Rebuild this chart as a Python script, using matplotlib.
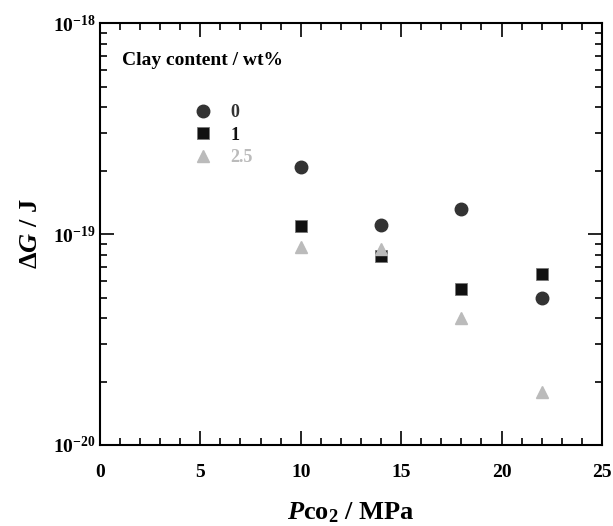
import math
import matplotlib
matplotlib.use("Agg")
import matplotlib.pyplot as plt
from matplotlib.ticker import FixedLocator, LogLocator, NullFormatter, FuncFormatter, MultipleLocator

plt.rcParams['font.family'] = ['Liberation Serif', 'DejaVu Serif']
plt.rcParams['font.weight'] = 'bold'
plt.rcParams['axes.labelweight'] = 'bold'
plt.rcParams['mathtext.fontset'] = 'custom'
plt.rcParams['mathtext.rm'] = 'Liberation Serif:bold'
plt.rcParams['mathtext.it'] = 'Liberation Serif:bold:italic'
plt.rcParams['mathtext.bf'] = 'Liberation Serif:bold'

pressure = [10, 14, 18, 22]
dg_0 = [2.08e-19, 1.10e-19, 1.32e-19, 4.95e-20]
dg_1 = [1.09e-19, 7.9e-20, 5.5e-20, 6.5e-20]
dg_25 = [8.7e-20, 8.5e-20, 3.98e-20, 1.78e-20]
series_labels = ['0', '1', '2.5']
legend_title = 'Clay content / wt%'

fig = plt.figure(figsize=(6.13, 5.26), dpi=100)
ax = fig.add_axes([0.163, 0.154, 0.819, 0.802])

h0, = ax.plot(pressure, dg_0, 'o', color='#333333', ms=9, mec='#333333', label=series_labels[0])
h1, = ax.plot(pressure, dg_1, 's', color='#111111', ms=9, mec='#777777', mew=0.6, label=series_labels[1])
h2, = ax.plot(pressure, dg_25, '^', color='#bbbbbb', ms=8, label=series_labels[2])

ax.set_yscale('log')
ax.set_xlim(0, 25)
ax.set_ylim(1e-20, 1e-18)

ax.xaxis.set_major_locator(MultipleLocator(5))
ax.xaxis.set_minor_locator(MultipleLocator(1))
ax.yaxis.set_major_locator(FixedLocator([1e-20, 1e-19, 1e-18]))
ax.yaxis.set_minor_locator(LogLocator(base=10, subs=range(2, 10)))
ax.yaxis.set_minor_formatter(NullFormatter())


def yfmt(v, pos):
    e = int(round(math.log10(v)))
    return r'$\mathbf{10^{\mathbf{-%d}}}$' % (-e)


ax.yaxis.set_major_formatter(FuncFormatter(yfmt))

ax.tick_params(which='both', direction='in', top=True, right=True, width=1.2)
ax.tick_params(which='major', length=10, labelsize=14)
ax.tick_params(which='minor', length=5)
ax.tick_params(axis='x', which='major', pad=14)
ax.tick_params(axis='y', which='major', pad=3)
for s in ax.spines.values():
    s.set_linewidth(1.5)

ax.set_xlabel(r'$\mathit{P}\mathbf{co_2}$ / MPa', fontsize=19, fontweight='bold', labelpad=14)
ax.set_ylabel(r'$\mathit{\Delta G}$ / J', fontsize=19, fontweight='bold', labelpad=8)

ax.text(0.044, 0.912, legend_title, transform=ax.transAxes, fontsize=14, fontweight='bold', va='center')
leg = ax.legend(handles=[h0, h1, h2], loc='upper left', bbox_to_anchor=(0.17, 0.825),
                frameon=False, fontsize=13, handletextpad=0.9, labelspacing=0.3,
                handlelength=1.2, borderaxespad=0)
for t, c in zip(leg.get_texts(), ['#333333', '#111111', '#bbbbbb']):
    t.set_color(c)

fig.savefig('out.png', dpi=100)
